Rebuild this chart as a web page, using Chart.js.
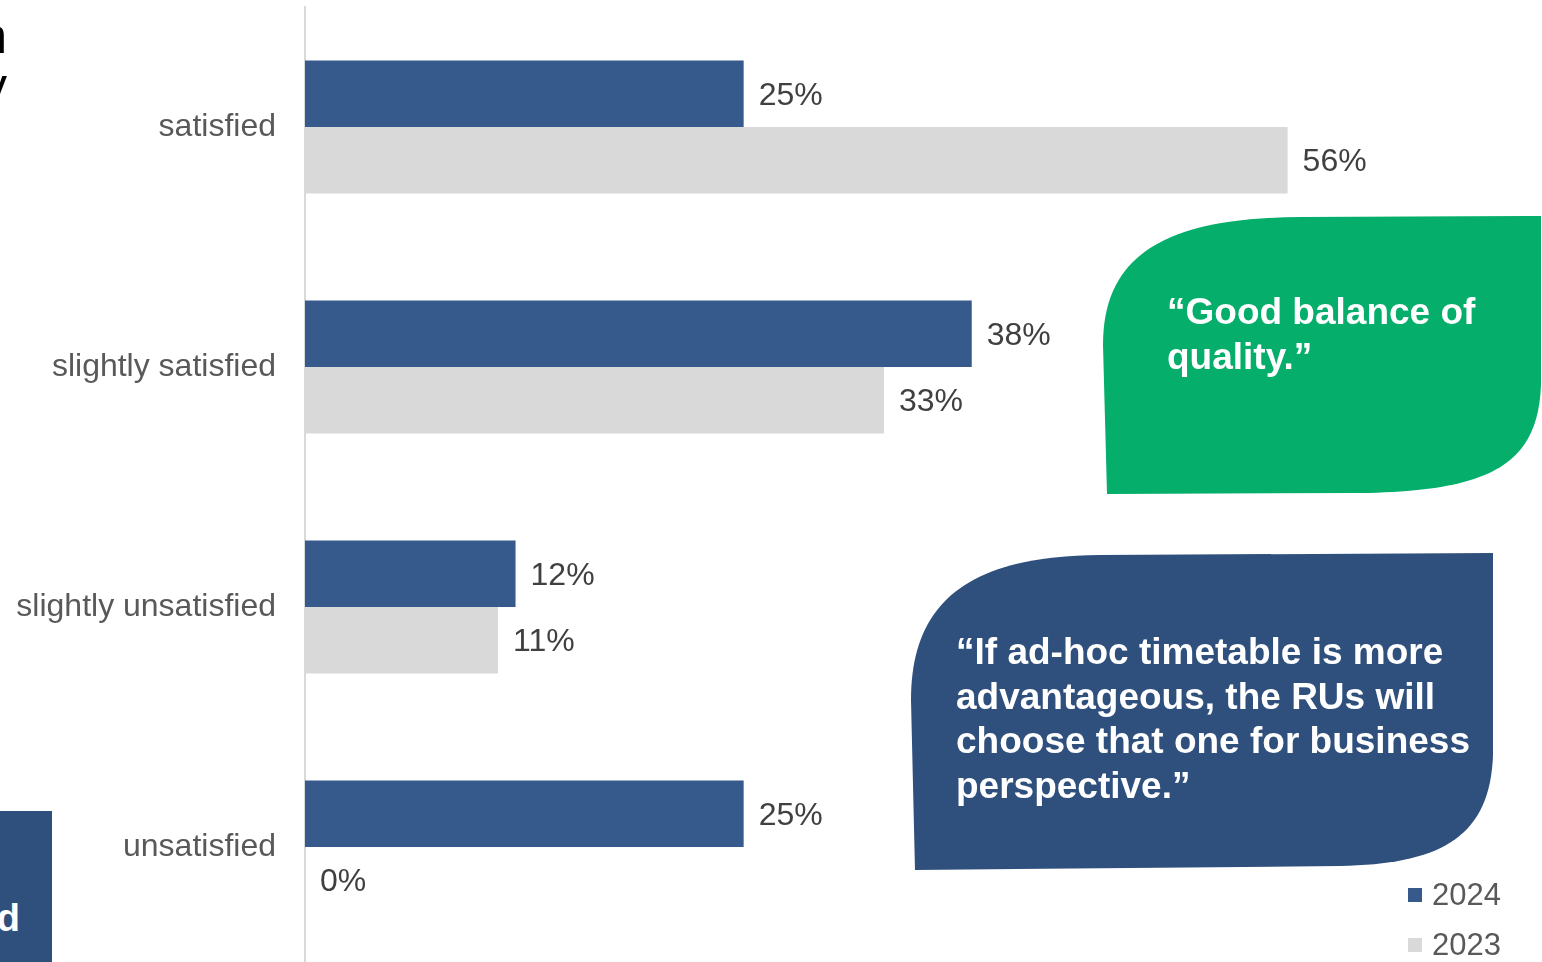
<!DOCTYPE html>
<html>
<head>
<meta charset="utf-8">
<script src="https://cdn.jsdelivr.net/npm/chart.js@4/dist/chart.umd.min.js"></script>
<style>
  html, body { margin: 0; padding: 0; background: #ffffff; overflow: hidden; }
  body { width: 1542px; height: 962px; position: relative; font-family: "Liberation Sans", Arial, sans-serif; }
  #wrap { position: absolute; left: 0; top: 0; width: 1542px; height: 970px; }
  .bubble { position: absolute; left: 0; top: 0; }
  .quote { position: absolute; color: #ffffff; font-weight: bold; font-size: 37px; line-height: 44.5px; white-space: nowrap; }
  .title { position: absolute; left: -193px; top: 11px; width: 200px; text-align: right; font-size: 50px; line-height: 50px; color: #000000; }
  .tab { position: absolute; left: 0; top: 811px; width: 52px; height: 160px; background: #2F4F7C; overflow: hidden; }
  .tab span { position: absolute; right: 32px; top: 82px; color: #ffffff; font-weight: bold; font-size: 38px; line-height: 50px; }
  .legend { position: absolute; left: 1408px; top: 0; }
  .legend .row { position: absolute; left: 0; white-space: nowrap; font-size: 31px; color: #595959; }
  .legend .sw { position: absolute; left: 0; width: 14px; height: 14px; }
  .legend .lbl { position: absolute; left: 24px; line-height: 36px; }
</style>
</head>
<body>
<div class="title">n<br>y</div>
<div class="tab"><span>d</span></div>
<div id="wrap"><canvas id="chart" width="1542" height="970"></canvas></div>

<svg class="bubble" width="1542" height="962" viewBox="0 0 1542 962">
  <path d="M1107,494 L1103,345 C1103,255 1165,218 1300,217 L1541,216 L1541,385 C1538,465 1490,491 1360,493 Z" fill="#05AE6B"/>
  <path d="M915,870 L911,700 C911,605 965,556 1100,555 L1493,553 L1493,755 C1490,838 1440,864 1340,866 Z" fill="#2F4F7D"/>
</svg>
<div class="quote" style="left:1167px; top:290px;">“Good balance of<br>quality.”</div>
<div class="quote" style="left:956px; top:630px;">“If ad-hoc timetable is more<br>advantageous, the RUs will<br>choose that one for business<br>perspective.”</div>

<div class="legend" id="legend"></div>

<script>
// Survey answers and the share of respondents per year (%)
const categories = ['satisfied', 'slightly satisfied', 'slightly unsatisfied', 'unsatisfied'];
const share2024 = [25, 38, 12, 25];
const share2023 = [56, 33, 11, 0];
const seriesLabels = ['2024', '2023'];
const seriesColors = ['#375A8C', '#D9D9D9'];

// Writes the value at the end of each bar
const valueLabels = {
  id: 'valueLabels',
  afterDatasetsDraw(chart) {
    const ctx = chart.ctx;
    ctx.save();
    ctx.font = '32px "Liberation Sans", Arial, sans-serif';
    ctx.fillStyle = '#404040';
    ctx.textAlign = 'left';
    ctx.textBaseline = 'middle';
    chart.data.datasets.forEach((ds, i) => {
      const meta = chart.getDatasetMeta(i);
      meta.data.forEach((bar, j) => {
        ctx.fillText(ds.data[j] + '%', bar.x + 15, bar.y + 2);
      });
    });
    ctx.restore();
  }
};

const chart = new Chart(document.getElementById('chart'), {
  type: 'bar',
  data: {
    labels: categories,
    datasets: [
      { label: seriesLabels[0], data: share2024, backgroundColor: seriesColors[0] },
      { label: seriesLabels[1], data: share2023, backgroundColor: seriesColors[1] }
    ]
  },
  options: {
    indexAxis: 'y',
    responsive: false,
    animation: false,
    devicePixelRatio: 1,
    categoryPercentage: 0.555,
    barPercentage: 1,
    layout: { padding: { top: 7, bottom: 3, left: 0, right: 0 } },
    plugins: { legend: { display: false }, tooltip: { enabled: false } },
    scales: {
      x: { display: false, min: 0, max: 70.5 },
      y: {
        afterFit(scale) {
          scale.width = 305;
          scale.paddingTop = 0;
          scale.paddingBottom = 0;
        },
        grid: { display: false, drawTicks: false },
        border: { display: true, color: '#D9D9D9', width: 2 },
        ticks: {
          padding: 29,
          color: '#595959',
          font: { family: '"Liberation Sans", Arial, sans-serif', size: 32 }
        }
      }
    }
  },
  plugins: [valueLabels]
});

// Legend built from the chart's datasets
const legend = document.getElementById('legend');
chart.data.datasets.forEach((ds, i) => {
  const row = document.createElement('div');
  row.className = 'row';
  row.style.top = (888 + i * 50) + 'px';
  row.innerHTML = '<div class="sw" style="top:0;background:' + ds.backgroundColor + '"></div>' +
                  '<div class="lbl" style="top:-11px">' + ds.label + '</div>';
  legend.appendChild(row);
});
</script>
</body>
</html>
